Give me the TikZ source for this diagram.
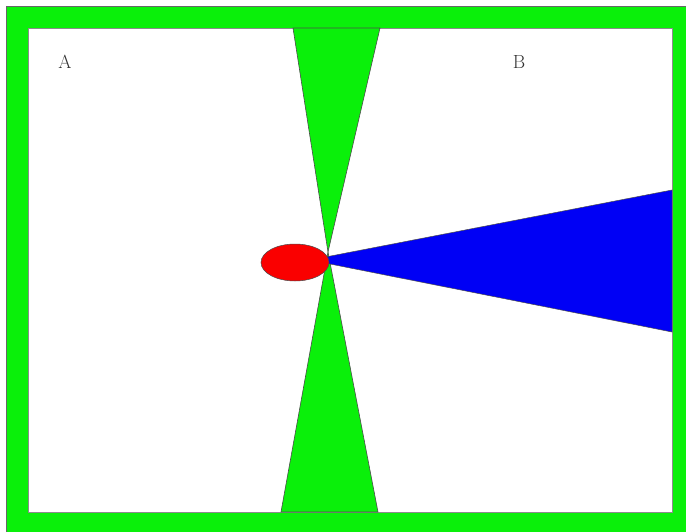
\documentclass[tikz,border=0pt]{standalone}
\usepackage{tikz}
\usetikzlibrary{positioning,calc,shapes.geometric}
\definecolor{framegreen}{RGB}{10,240,10}
\definecolor{conblue}{RGB}{0,0,245}
\definecolor{dotred}{RGB}{250,0,0}

\begin{document}
\begin{tikzpicture}[x=1pt,y=-1pt, every node/.style={align=center},
  wedge/.style={fill=framegreen,draw=black!70,line width=0.6pt},
  lbl/.style={font=\fontsize{19}{22}\selectfont,text=black!80}]
\useasboundingbox (0,0) rectangle (686,532);
\draw[fill=white,draw=none] (0,0) rectangle (686,532);
\draw[fill=framegreen,draw=black!60,line width=0.6pt] (6,6) rectangle (690,536);
\draw[fill=white,draw=black!45,line width=0.8pt] (28,28) rectangle (672,512);
\coordinate (apex) at (328,252);
\coordinate (beam) at (310,260);
\draw[wedge] (293,28) -- (380,28) -- (apex) -- cycle;
\draw[wedge] (281,512) -- (378,512) -- (apex) -- cycle;
\draw[fill=conblue,draw=black!70,line width=0.5pt] (beam) -- (672,190) -- (672,332) -- cycle;
\node[ellipse,fill=dotred,draw=black!70,line width=0.5pt,inner sep=0pt,minimum width=68pt,minimum height=37pt] (dot) at (295,262.5) {};
\node[lbl] (A) at (65,62) {A};
\node[lbl] (B) at (519,62) {B};
\end{tikzpicture}
\end{document}
